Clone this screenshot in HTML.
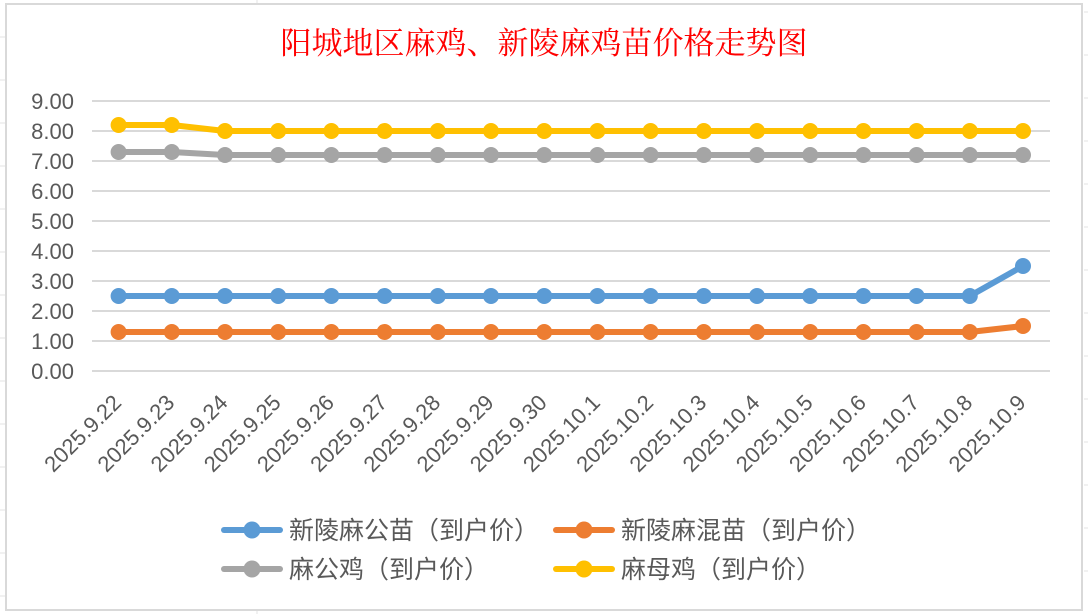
<!DOCTYPE html>
<html><head><meta charset="utf-8"><style>
html,body{margin:0;padding:0;background:#fff;}
svg{display:block;}
</style></head><body>
<svg width="1088" height="614" xmlns="http://www.w3.org/2000/svg" font-family="'Liberation Sans','Noto Sans CJK SC',sans-serif">
<g stroke="#e3e3e3" stroke-width="1">
<line x1="0" y1="37" x2="6" y2="37"/><line x1="0" y1="80" x2="6" y2="80"/><line x1="0" y1="123" x2="6" y2="123"/><line x1="0" y1="166" x2="6" y2="166"/><line x1="0" y1="209" x2="6" y2="209"/><line x1="0" y1="252" x2="6" y2="252"/><line x1="0" y1="295" x2="6" y2="295"/><line x1="0" y1="338" x2="6" y2="338"/><line x1="0" y1="381" x2="6" y2="381"/><line x1="0" y1="424" x2="6" y2="424"/><line x1="0" y1="467" x2="6" y2="467"/><line x1="0" y1="510" x2="6" y2="510"/><line x1="0" y1="553" x2="6" y2="553"/><line x1="0" y1="596" x2="6" y2="596"/>
<line x1="1084" y1="12" x2="1088" y2="12"/><line x1="1084" y1="55" x2="1088" y2="55"/><line x1="1084" y1="98" x2="1088" y2="98"/><line x1="1084" y1="141" x2="1088" y2="141"/><line x1="1084" y1="184" x2="1088" y2="184"/><line x1="1084" y1="227" x2="1088" y2="227"/><line x1="1084" y1="270" x2="1088" y2="270"/><line x1="1084" y1="313" x2="1088" y2="313"/><line x1="1084" y1="356" x2="1088" y2="356"/><line x1="1084" y1="399" x2="1088" y2="399"/><line x1="1084" y1="442" x2="1088" y2="442"/><line x1="1084" y1="485" x2="1088" y2="485"/><line x1="1084" y1="528" x2="1088" y2="528"/><line x1="1084" y1="571" x2="1088" y2="571"/>
<line x1="257" y1="0" x2="257" y2="4"/><line x1="257" y1="610" x2="257" y2="614"/>
</g>
<rect x="6" y="4" width="1076" height="606" fill="#fff" stroke="#d9d9d9" stroke-width="2"/>
<text x="544" y="54" text-anchor="middle" fill="#ff0000" font-size="31" font-family="'Liberation Serif','Noto Serif CJK SC',serif">阳城地区麻鸡、新陵麻鸡苗价格走势图</text>
<g stroke="#d9d9d9" stroke-width="2">
<line x1="92" y1="101" x2="1050" y2="101"/><line x1="92" y1="131" x2="1050" y2="131"/><line x1="92" y1="161" x2="1050" y2="161"/><line x1="92" y1="191" x2="1050" y2="191"/><line x1="92" y1="221" x2="1050" y2="221"/><line x1="92" y1="251" x2="1050" y2="251"/><line x1="92" y1="281" x2="1050" y2="281"/><line x1="92" y1="311" x2="1050" y2="311"/><line x1="92" y1="341" x2="1050" y2="341"/><line x1="92" y1="371" x2="1050" y2="371"/>
</g>
<g fill="#595959" font-size="22" text-anchor="end">
<text x="74" y="109">9.00</text><text x="74" y="139">8.00</text><text x="74" y="169">7.00</text><text x="74" y="199">6.00</text><text x="74" y="229">5.00</text><text x="74" y="259">4.00</text><text x="74" y="289">3.00</text><text x="74" y="319">2.00</text><text x="74" y="349">1.00</text><text x="74" y="379">0.00</text>
</g>
<g id="lbl" fill="#595959" font-size="22" text-anchor="end"></g>
<g id="series"></g>
<g font-size="25" fill="#595959">
<line x1="224" y1="530" x2="280" y2="530" stroke="#5b9bd5" stroke-width="6" stroke-linecap="round"/><circle cx="252" cy="530" r="8.5" fill="#5b9bd5"/>
<text x="289" y="539">新陵麻公苗（到户价）</text>
<line x1="556" y1="530" x2="612" y2="530" stroke="#ed7d31" stroke-width="6" stroke-linecap="round"/><circle cx="584" cy="530" r="8.5" fill="#ed7d31"/>
<text x="621" y="539">新陵麻混苗（到户价）</text>
<line x1="224" y1="569" x2="280" y2="569" stroke="#a5a5a5" stroke-width="6" stroke-linecap="round"/><circle cx="252" cy="569" r="8.5" fill="#a5a5a5"/>
<text x="289" y="578">麻公鸡（到户价）</text>
<line x1="556" y1="569" x2="612" y2="569" stroke="#ffc000" stroke-width="6" stroke-linecap="round"/><circle cx="584" cy="569" r="8.5" fill="#ffc000"/>
<text x="621" y="578">麻母鸡（到户价）</text>
</g>
<script>
var ns="http://www.w3.org/2000/svg";
var labels=["2025.9.22","2025.9.23","2025.9.24","2025.9.25","2025.9.26","2025.9.27","2025.9.28","2025.9.29","2025.9.30","2025.10.1","2025.10.2","2025.10.3","2025.10.4","2025.10.5","2025.10.6","2025.10.7","2025.10.8","2025.10.9"];
function X(i){return 118.6+i*53.2;}
function Y(v){return 371-v*30;}
var g=document.getElementById("lbl");
labels.forEach(function(l,i){var t=document.createElementNS(ns,"text");var x=X(i)+4,y=404;t.setAttribute("x",x);t.setAttribute("y",y);t.setAttribute("transform","rotate(-45 "+x+" "+y+")");t.textContent=l;g.appendChild(t);});
var S=[["#a5a5a5",[7.3,7.3].concat(Array(16).fill(7.2))],["#ffc000",[8.2,8.2].concat(Array(16).fill(8.0))],["#5b9bd5",Array(17).fill(2.5).concat([3.5])],["#ed7d31",Array(17).fill(1.3).concat([1.5])]];
var sg=document.getElementById("series");
S.forEach(function(s){var p=document.createElementNS(ns,"polyline");p.setAttribute("points",s[1].map(function(v,i){return X(i)+","+Y(v);}).join(" "));p.setAttribute("fill","none");p.setAttribute("stroke",s[0]);p.setAttribute("stroke-width","6");p.setAttribute("stroke-linejoin","round");sg.appendChild(p);
s[1].forEach(function(v,i){var c=document.createElementNS(ns,"circle");c.setAttribute("cx",X(i));c.setAttribute("cy",Y(v));c.setAttribute("r","8");c.setAttribute("fill",s[0]);sg.appendChild(c);});});
</script>
</svg>
</body></html>
